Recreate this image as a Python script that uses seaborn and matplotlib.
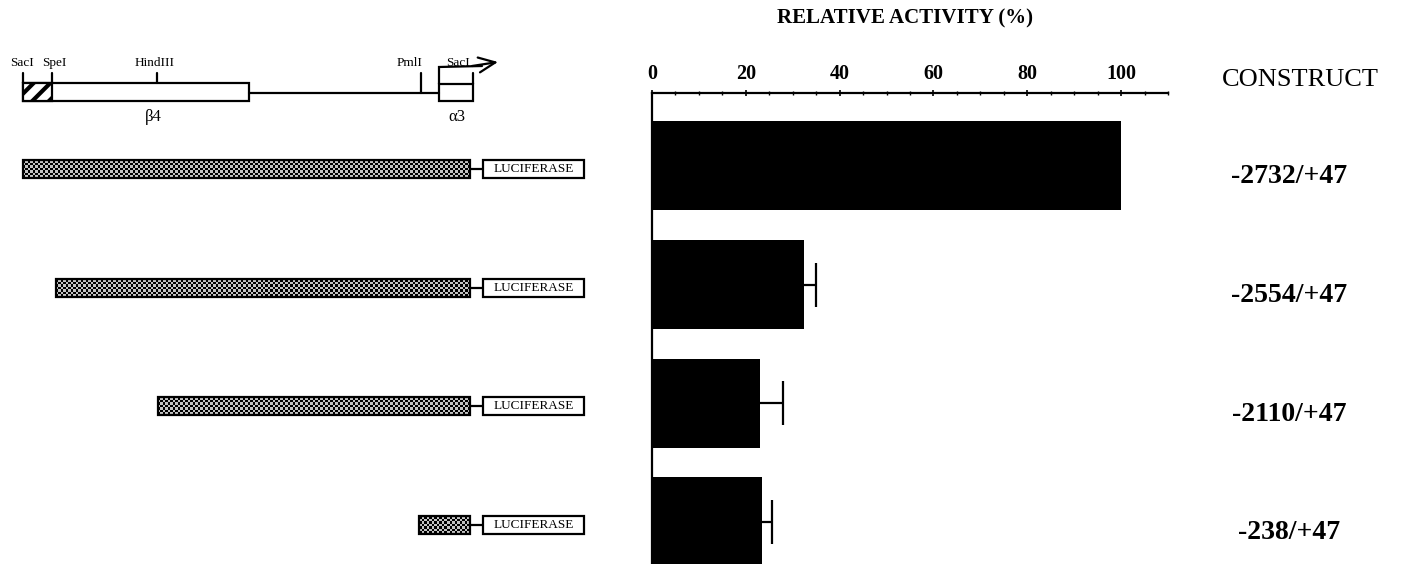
import numpy as np
import pandas as pd
import matplotlib
matplotlib.use("Agg")
import matplotlib.pyplot as plt
import matplotlib.transforms as mtransforms
from matplotlib.patches import Rectangle
from matplotlib.ticker import MultipleLocator
import seaborn as sns

# ---- data -------------------------------------------------------------
constructs = ["-2732/+47", "-2554/+47", "-2110/+47", "-238/+47"]
activity = [100.0, 32.5, 23.0, 23.5]          # relative luciferase activity (%)
activity_err = [0.0, 2.5, 5.0, 2.0]           # upper error

tick_values = [0, 20, 40, 60, 80, 100]
tick_labels = ["0", "20", "40", "60", "80", "100"]

# ---- schematic restriction map (drawing units, left panel) ------------
site_names = ["SacI", "SpeI", "HindIII", "PmlI", "SacI"]
site_pos = [23, 52, 157, 421, 473]
site_label_x = [22, 54, 155, 410, 458]
beta4_exon = (23, 249)
beta4_hatched = (23, 52)
alpha3_exon = (439, 473)
construct_start = [23, 56, 158, 419]
construct_end = 470
luc_box = (483, 584)

sns.set_theme(style="white")
plt.rcParams["font.family"] = ["Liberation Serif", "DejaVu Serif"]
plt.rcParams["text.color"] = "black"
plt.rcParams["axes.labelcolor"] = "black"
plt.rcParams["xtick.color"] = "black"
plt.rcParams["ytick.color"] = "black"
plt.rcParams["hatch.linewidth"] = 3.0

W, H = 1403, 564
fig = plt.figure(figsize=(W / 100, H / 100), dpi=100)
fig.patch.set_facecolor("white")

# ---- bar chart ---------------------------------------------------------
ax = fig.add_axes([652 / W, 0, (1168 - 652) / W, 1 - 93 / H])
df = pd.DataFrame({"construct": constructs, "activity": activity})
sns.barplot(data=df, x="activity", y="construct", orient="h", color="black",
            saturation=1, width=0.75, errorbar=None, linewidth=0, ax=ax)

err = np.array(activity_err)
vals = np.array(activity)
has_err = err > 0
ypos = np.arange(len(constructs))
_, caps, _ = ax.errorbar(vals[has_err], ypos[has_err],
                         xerr=[np.zeros(has_err.sum()), err[has_err]],
                         fmt="none", ecolor="black", elinewidth=1.6,
                         capsize=15.5, capthick=1.6)
# one-sided bars: keep only the outer caps
for cap in caps:
    if np.allclose(cap.get_xdata(), vals[has_err]):
        cap.set_visible(False)

ax.set_xlim(0, 110)
ax.set_ylim(3.354, -0.615)
ax.xaxis.tick_top()
ax.set_xticks(tick_values)
ax.set_xticklabels(tick_labels, fontweight="bold", fontsize=14.5)
ax.xaxis.set_minor_locator(MultipleLocator(5))
ax.tick_params(axis="x", which="major", direction="inout", length=5, width=1.2,
               pad=4, colors="black")
ax.tick_params(axis="x", which="minor", direction="inout", length=3, width=1.0,
               colors="black", top=True, bottom=False)
ax.set_yticks([])
ax.set_xlabel("")
ax.set_ylabel("")
for side in ("right", "bottom"):
    ax.spines[side].set_visible(False)
for side in ("top", "left"):
    ax.spines[side].set_color("black")
    ax.spines[side].set_linewidth(1.6)

fig.text(905 / W, 1 - 18 / H, "RELATIVE ACTIVITY (%)", ha="center", va="center",
         fontsize=15, fontweight="bold")
fig.text(1300 / W, 1 - 80 / H, "CONSTRUCT", ha="center", va="center", fontsize=19)

label_trans = mtransforms.offset_copy(
    mtransforms.blended_transform_factory(fig.transFigure, ax.transData),
    fig=fig, y=-11, units="dots")
for i, name in enumerate(constructs):
    fig.text(1289 / W, i, name, transform=label_trans, ha="center", va="center",
             fontsize=20, fontweight="bold")

# ---- left panel: map and deletion constructs --------------------------
axl = fig.add_axes([0, 0, 600 / W, 1])
axl.set_xlim(0, 600)
axl.set_ylim(H, 0)
axl.axis("off")

lw = 1.6
map_y = 93
exon_top, exon_bot = 83, 101

# beta4 exon with hatched SacI-SpeI part
axl.add_patch(Rectangle((beta4_exon[0], exon_top), beta4_exon[1] - beta4_exon[0],
                        exon_bot - exon_top, facecolor="white", edgecolor="black", lw=lw))
axl.add_patch(Rectangle((beta4_hatched[0], exon_top), beta4_hatched[1] - beta4_hatched[0],
                        exon_bot - exon_top, facecolor="white", edgecolor="black",
                        hatch="//", lw=lw))
# intergenic line
axl.plot([beta4_exon[1], alpha3_exon[0]], [map_y, map_y], color="black", lw=lw)
# alpha3 exon
axl.add_patch(Rectangle((alpha3_exon[0], 84), alpha3_exon[1] - alpha3_exon[0],
                        exon_bot - 84, facecolor="white", edgecolor="black", lw=lw))
# transcription start arrow
axl.plot([alpha3_exon[0], alpha3_exon[0], 482], [84, 67, 66], color="black", lw=lw,
         solid_joinstyle="miter")
axl.annotate("", xy=(498, 62), xytext=(472, 66),
             arrowprops=dict(arrowstyle="->,head_length=1.0,head_width=0.45",
                             lw=lw, color="black", shrinkA=0, shrinkB=0))


def site_base(x):
    if beta4_exon[0] <= x <= beta4_exon[1]:
        return exon_top
    if alpha3_exon[0] <= x <= alpha3_exon[1]:
        return 84
    return map_y


for name, x, lx in zip(site_names, site_pos, site_label_x):
    axl.plot([x, x], [73, site_base(x)], color="black", lw=lw)
    axl.text(lx, 63, name, ha="center", va="center", fontsize=9.5)

axl.text(153, 117, "β4", ha="center", va="center", fontsize=12)
axl.text(457, 117, "α3", ha="center", va="center", fontsize=12)

# constructs aligned with the bars; stippled insert + luciferase reporter
row_h = 18
for i, start in enumerate(construct_start):
    disp = ax.transData.transform((0, i))
    yc = axl.transData.inverted().transform(disp)[1] + 3
    nx = int(round((construct_end - start) / 2.5))
    ny = 7
    checker = np.add.outer(np.arange(ny), np.arange(nx)) % 2
    axl.imshow(checker, cmap="gray", vmin=0, vmax=1.3, interpolation="nearest",
               aspect="auto", extent=(start, construct_end, yc + row_h / 2, yc - row_h / 2),
               zorder=2)
    axl.add_patch(Rectangle((start, yc - row_h / 2), construct_end - start, row_h,
                            facecolor="none", edgecolor="black", lw=lw, zorder=3))
    axl.plot([construct_end, luc_box[0]], [yc, yc], color="black", lw=lw, zorder=3)
    axl.add_patch(Rectangle((luc_box[0], yc - row_h / 2), luc_box[1] - luc_box[0], row_h,
                            facecolor="white", edgecolor="black", lw=lw, zorder=3))
    axl.text((luc_box[0] + luc_box[1]) / 2, yc, "LUCIFERASE", ha="center",
             va="center", fontsize=9.5, zorder=4)

axl.set_xlim(0, 600)
axl.set_ylim(H, 0)

fig.savefig("out.png", dpi=100, facecolor="white")
